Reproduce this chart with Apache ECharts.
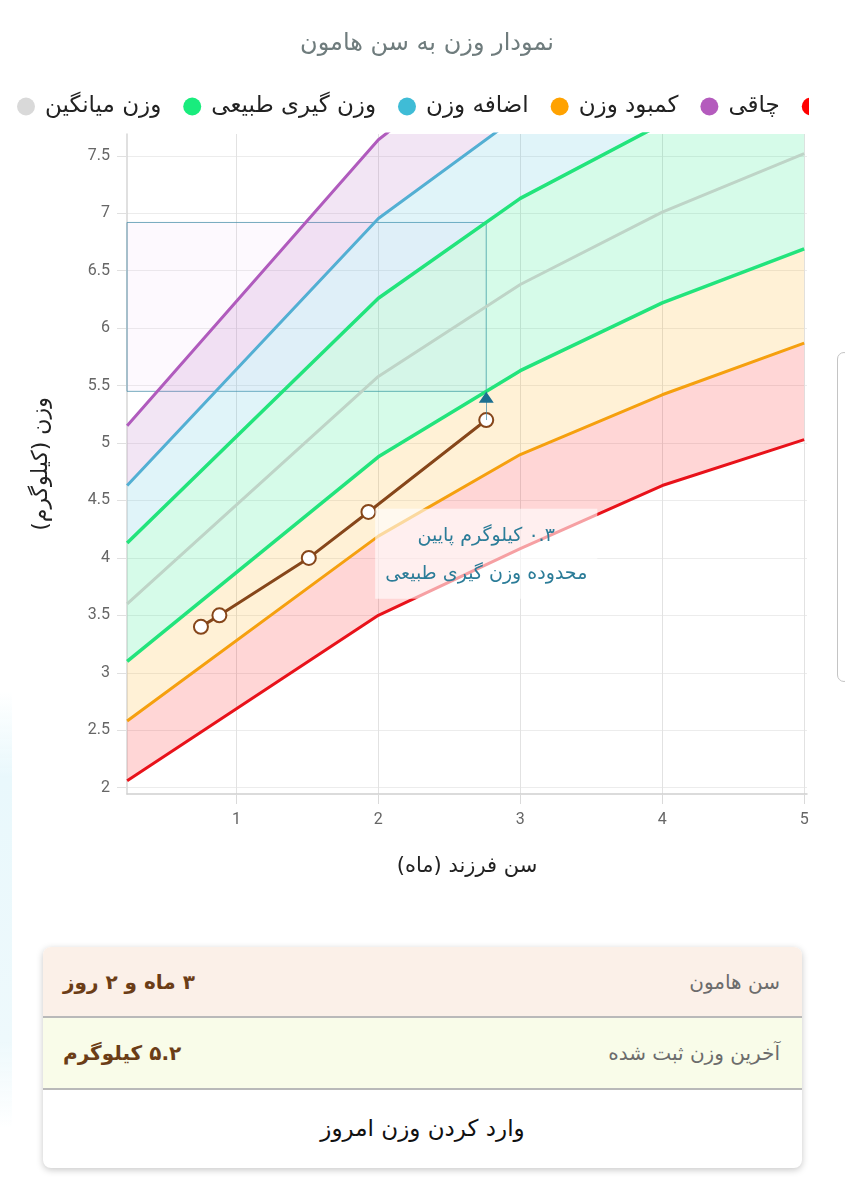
<!DOCTYPE html>
<html>
<head>
<meta charset="utf-8">
<script src="https://cdn.jsdelivr.net/npm/echarts@6/dist/echarts.min.js"></script>
<style>
  html, body { margin: 0; padding: 0; background: #fff; width: 845px; height: 1200px; overflow: hidden; font-family: 'DejaVu Sans', sans-serif; }
  #chart { position: absolute; left: 0; top: 0; width: 809px; height: 910px; }
  .edge { position: absolute; left: 0; top: 690px; width: 12px; height: 440px;
          background: linear-gradient(to bottom, rgba(228,247,252,0), #e9f8fc 20%, #eef9fc 80%, rgba(238,249,252,0)); }
  .scroll { position: absolute; left: 837px; top: 352px; width: 14px; height: 330px; border: 1px solid #c4c4c4; border-radius: 7px; box-sizing: border-box; }
  .card { position: absolute; left: 43px; top: 947px; width: 759px; height: 221px; border-radius: 8px; overflow: hidden;
          box-shadow: 0 2px 7px rgba(0,0,0,0.22); background: #fff; direction: rtl; }
  .row { height: 71px; display: flex; align-items: center; justify-content: space-between; padding: 0 22px 0 20px; box-sizing: border-box; border-bottom: 2px solid #b9b9b9; font-size: 20px; }
  .row .lab { color: #6c6c6c; }
  .row .val { color: #6b3d17; font-weight: bold; }
  .r1 { background: #fbf0e8; }
  .r2 { background: #f9fce9; height: 72px; }
  .r3 { height: 76px; display: flex; align-items: center; justify-content: center; font-size: 23px; color: #111; }
</style>
</head>
<body>
<div id="chart"></div>
<div class="edge"></div>
<div class="scroll"></div>
<div class="card">
  <div class="row r1"><span class="lab">سن هامون</span><span class="val">۳ ماه و ۲ روز</span></div>
  <div class="row r2"><span class="lab">آخرین وزن ثبت شده</span><span class="val">۵.۲ کیلوگرم</span></div>
  <div class="r3">وارد کردن وزن امروز</div>
</div>
<script>
// ---- data ----
const ages        = [0.23, 2, 3, 4, 5];
const lineRed     = [2.06, 3.50, 4.08, 4.63, 5.03];
const lineOrange  = [2.58, 4.19, 4.90, 5.42, 5.87];
const lineGreenLo = [3.10, 4.88, 5.63, 6.22, 6.69];
const lineGrey    = [3.60, 5.58, 6.38, 7.01, 7.52];
const lineGreenHi = [4.13, 6.26, 7.13, 7.78, 8.35];
const lineBlue    = [4.63, 6.955, 7.86, 8.55, 9.15];
const linePurple  = [5.15, 7.64, 8.60, 9.35, 9.95];

const childAges    = [0.75, 0.88, 1.51, 1.93, 2.76];
const childWeights = [3.4, 3.5, 4.0, 4.4, 5.2];

const currentAge = 2.76;
const normalRange = [5.45, 6.92];
const noteLines = ['۰.۳ کیلوگرم پایین', 'محدوده وزن گیری طبیعی'];

const xTicks = [1, 2, 3, 4, 5];
const yTicks = [2, 2.5, 3, 3.5, 4, 4.5, 5, 5.5, 6, 6.5, 7, 7.5];
const xMin = 0.229, xMax = 5.02, yMin = 1.945, yMax = 7.69;

const names = {
  grey: 'وزن میانگین',
  green: 'وزن گیری طبیعی',
  blue: 'اضافه وزن',
  orange: 'کمبود وزن',
  purple: 'چاقی',
  red: 'کمبود وزن شدید'
};

// ---- build ----
const FONT = 'DejaVu Sans';
const RLM = '\u200F';
const pairs = (xs, ys) => xs.map((x, i) => [x, ys[i]]);

const bandDefs = [
  { lo: lineRed, hi: lineOrange, color: 'rgba(255,0,0,0.16)' },
  { lo: lineOrange, hi: lineGreenLo, color: 'rgba(255,165,0,0.16)' },
  { lo: lineGreenLo, hi: lineGreenHi, color: 'rgba(0,230,118,0.16)' },
  { lo: lineGreenHi, hi: lineBlue, color: 'rgba(60,185,215,0.16)' },
  { lo: lineBlue, hi: linePurple, color: 'rgba(176,92,189,0.16)' }
];

const bandSeries = {
  type: 'custom', silent: true, clip: true, z: 1,
  data: bandDefs.map(b => [ages[0], b.lo[0]]),
  renderItem: function (params, api) {
    const b = bandDefs[params.dataIndex];
    const top = ages.map((a, i) => api.coord([a, b.hi[i]]));
    const bot = ages.map((a, i) => api.coord([a, b.lo[i]])).reverse();
    return { type: 'polygon', shape: { points: top.concat(bot) }, style: { fill: b.color } };
  }
};

function lineS(name, ys, lineColor, legendColor, width) {
  return {
    type: 'line', name, data: pairs(ages, ys), symbol: 'none', silent: true, z: 2,
    lineStyle: { color: lineColor, width: width || 3 },
    itemStyle: { color: legendColor }
  };
}

const lineSeries = [
  lineS(names.red, lineRed, '#e8121a', '#ff0000', 3),
  lineS(names.orange, lineOrange, '#f5a00f', '#ffa200', 3),
  lineS(names.green, lineGreenLo, '#22e47c', '#19ec7d', 3.5),
  lineS(names.grey, lineGrey, '#bed4c7', '#d9d9d9', 3),
  lineS(names.green, lineGreenHi, '#22e47c', '#19ec7d', 3.5),
  lineS(names.blue, lineBlue, '#53afd3', '#3fbcd6', 3),
  lineS(names.purple, linePurple, '#b05bbd', '#b45bbd', 3)
];

const lineRefColor = 'rgba(70,140,168,0.75)';
const childSeries = {
  type: 'line', name: 'هامون', data: pairs(childAges, childWeights), z: 4,
  symbol: 'circle', symbolSize: 14,
  lineStyle: { color: '#86461a', width: 3 },
  itemStyle: { color: '#ffffff', borderColor: '#86461a', borderWidth: 2 },
  markArea: {
    silent: true,
    itemStyle: { color: 'rgba(225,175,240,0.08)', borderColor: lineRefColor, borderWidth: 1 },
    data: [[{ coord: [xMin, normalRange[1]] }, { coord: [currentAge, normalRange[0]] }]]
  },
  markLine: {
    silent: true, symbol: 'none', label: { show: false },
    lineStyle: { color: lineRefColor, width: 1, type: 'solid' },
    data: [[{ coord: [currentAge, normalRange[0]] }, { coord: [currentAge, childWeights[childWeights.length - 1]] }]]
  },
  markPoint: {
    silent: true,
    data: [{
      coord: [currentAge, normalRange[0]],
      symbol: 'triangle', symbolSize: [15, 11], symbolOffset: [0, 6],
      itemStyle: { color: '#1b6f90' },
      label: {
        show: true, position: 'bottom', distance: 106,
        formatter: noteLines.map(t => RLM + t).join('\n'),
        color: '#2b7c98', fontSize: 19, fontFamily: FONT, lineHeight: 38, align: 'center',
        backgroundColor: 'rgba(255,255,255,0.6)', padding: [8, 10, 6, 10]
      }
    }]
  }
};

const chart = echarts.init(document.getElementById('chart'), null, { renderer: 'canvas' });
chart.setOption({
  animation: false,
  title: {
    text: 'نمودار وزن به سن هامون', left: 422, textAlign: 'center', top: 27,
    textStyle: { fontSize: 24, color: '#6f7c7d', fontWeight: 'normal', fontFamily: FONT }
  },
  legend: {
    left: 12, top: 90, width: 2000, itemWidth: 28, itemHeight: 18, itemGap: 22,
    icon: 'circle', symbolKeepAspect: true,
    data: [names.grey, names.green, names.blue, names.orange, names.purple, names.red],
    textStyle: { fontSize: 23, color: '#222', fontFamily: FONT }
  },
  grid: { left: 127, right: 2, top: 134, bottom: 116, containLabel: false, outerBoundsMode: 'none' },
  xAxis: {
    type: 'value', min: xMin, max: xMax,
    name: 'سن فرزند (ماه)', nameLocation: 'middle', nameGap: 62,
    nameTextStyle: { fontSize: 21, color: '#222', fontFamily: FONT },
    axisLine: { show: true, lineStyle: { color: '#cfcfcf', width: 1.5 } },
    axisTick: { show: true, length: 10, customValues: xTicks, lineStyle: { color: '#dadada' } },
    axisLabel: { customValues: xTicks, fontSize: 16, color: '#666', margin: 18, fontFamily: 'Roboto' },
    splitLine: { show: true, lineStyle: { color: '#e2e2e2' } }
  },
  yAxis: {
    type: 'value', min: yMin, max: yMax,
    name: 'وزن (کیلوگرم)', nameLocation: 'middle', nameGap: 75,
    nameTextStyle: { fontSize: 22, color: '#222', fontFamily: FONT },
    axisLine: { show: true, lineStyle: { color: '#d6d6d6', width: 1.5 } },
    axisTick: { show: true, length: 10, customValues: yTicks, lineStyle: { color: '#e0e0e0' } },
    axisLabel: { customValues: yTicks, fontSize: 16, color: '#666', margin: 17, fontFamily: 'Roboto' },
    splitLine: { show: true, lineStyle: { color: '#ececec' } }
  },
  series: [bandSeries, ...lineSeries, childSeries]
});
</script>
</body>
</html>
